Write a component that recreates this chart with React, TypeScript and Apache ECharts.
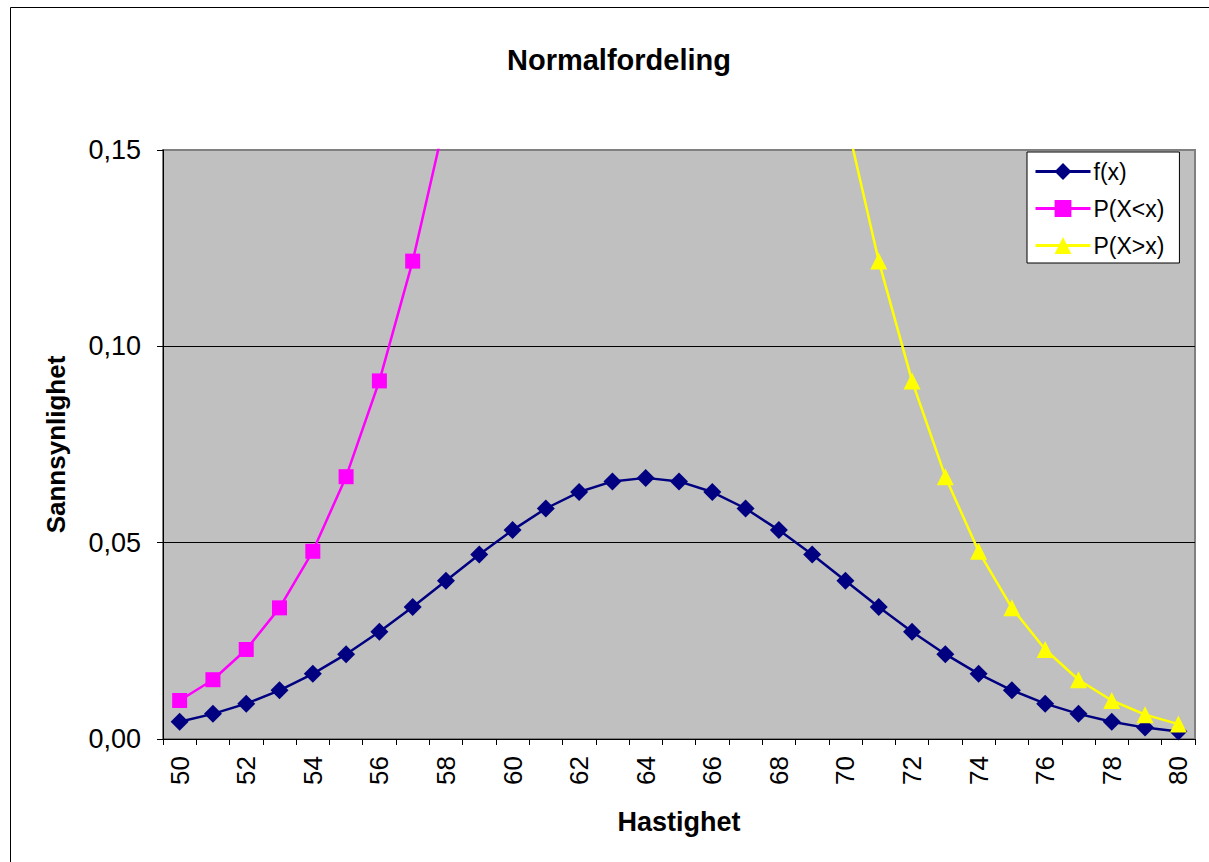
import React, { useEffect, useRef } from "react";
import * as echarts from "echarts";

const categories = [
  "50", "51", "52", "53", "54", "55", "56", "57", "58", "59", "60",
  "61", "62", "63", "64", "65", "66", "67", "68", "69", "70",
  "71", "72", "73", "74", "75", "76", "77", "78", "79", "80",
];

const fx = [
  0.0044, 0.0064, 0.009, 0.0124, 0.0166, 0.0216, 0.0273, 0.0336, 0.0403, 0.047, 0.0532,
  0.0587, 0.0629, 0.0656, 0.0665, 0.0656, 0.0629, 0.0587, 0.0532, 0.047, 0.0403,
  0.0336, 0.0273, 0.0216, 0.0166, 0.0124, 0.009, 0.0064, 0.0044, 0.0029, 0.0019,
];

const pLess = [
  0.0098, 0.0151, 0.0228, 0.0334, 0.0478, 0.0668, 0.0912, 0.1217, 0.1587, null, null,
  null, null, null, null, null, null, null, null, null, null,
  null, null, null, null, null, null, null, null, null, null,
];

const pGreater = [
  null, null, null, null, null, null, null, null, null, null, null,
  null, null, null, null, null, null, null, null, null, 0.1587,
  0.1217, 0.0912, 0.0668, 0.0478, 0.0334, 0.0228, 0.0151, 0.0098, 0.0062, 0.0038,
];

const yTicks = [0, 0.05, 0.1, 0.15];

const FONT = "Arial, 'Liberation Sans', sans-serif";

export default function App() {
  const ref = useRef<HTMLDivElement>(null);

  useEffect(() => {
    document.body.style.margin = "0";
    if (!ref.current) return;
    const chart = echarts.init(ref.current, null, { renderer: "svg" });
    chart.setOption({
      animation: false,
      backgroundColor: "#ffffff",
      textStyle: { fontFamily: FONT },
      title: {
        text: "Normalfordeling",
        left: 614,
        textAlign: "center",
        top: 40,
        textStyle: { fontSize: 29, fontWeight: "bold", color: "#000", fontFamily: FONT },
      },
      graphic: [
        {
          type: "rect",
          shape: { x: 10.5, y: 7.5, width: 1250, height: 900 },
          style: { fill: "none", stroke: "#000", lineWidth: 1 },
          silent: true,
          z: 100,
        },
      ],
      legend: {
        orient: "vertical",
        left: 1027,
        top: 152,
        padding: [8, 15, 6, 7],
        itemWidth: 55,
        itemHeight: 21,
        itemGap: 14,
        backgroundColor: "#ffffff",
        borderColor: "#000000",
        borderWidth: 1,
        lineStyle: { width: 3 },
        textStyle: { fontSize: 23, color: "#000", fontFamily: FONT, padding: [0, 0, 0, -2] },
        data: ["f(x)", "P(X<x)", "P(X>x)"],
      },
      grid: {
        left: 163,
        top: 150,
        width: 1032,
        height: 589,
        show: true,
        backgroundColor: "#C0C0C0",
        borderColor: "#808080",
        borderWidth: 2,
        containLabel: false,
      },
      xAxis: {
        type: "category",
        data: categories,
        boundaryGap: true,
        name: "Hastighet",
        nameLocation: "middle",
        nameGap: 69,
        nameTextStyle: { fontSize: 27, fontWeight: "bold", color: "#000", fontFamily: FONT },
        axisLine: { show: true, lineStyle: { color: "#000", width: 1 } },
        axisTick: { show: true, interval: 0, length: 6, lineStyle: { color: "#000" } },
        axisLabel: {
          interval: 1,
          rotate: 90,
          margin: 17,
          fontSize: 26,
          color: "#000",
          fontFamily: FONT,
        },
        splitLine: { show: false },
      },
      yAxis: {
        type: "value",
        min: yTicks[0],
        max: yTicks[yTicks.length - 1],
        interval: 0.05,
        name: "Sannsynlighet",
        nameLocation: "middle",
        nameGap: 94,
        nameRotate: 90,
        nameTextStyle: { fontSize: 26, fontWeight: "bold", color: "#000", fontFamily: FONT },
        axisLine: { show: true, lineStyle: { color: "#000", width: 1 } },
        axisTick: { show: true, length: 6, lineStyle: { color: "#000" } },
        axisLabel: {
          margin: 22,
          fontSize: 27,
          color: "#000",
          fontFamily: FONT,
          formatter: (v: number) => v.toFixed(2).replace(".", ","),
        },
        splitLine: {
          show: true,
          lineStyle: { color: ["#000", "#000", "#000", "#808080"], width: 1 },
        },
      },
      series: [
        {
          name: "f(x)",
          type: "line",
          data: fx,
          symbol: "diamond",
          symbolSize: 18,
          color: "#000080",
          lineStyle: { color: "#000080", width: 2.5 },
          itemStyle: { color: "#000080" },
          clip: true,
        },
        {
          name: "P(X<x)",
          type: "line",
          data: pLess,
          symbol: "rect",
          symbolSize: 15,
          color: "#FF00FF",
          lineStyle: { color: "#FF00FF", width: 2.5 },
          itemStyle: { color: "#FF00FF" },
          clip: true,
        },
        {
          name: "P(X>x)",
          type: "line",
          data: pGreater,
          symbol: "triangle",
          symbolSize: 17,
          color: "#FFFF00",
          lineStyle: { color: "#FFFF00", width: 2.5 },
          itemStyle: { color: "#FFFF00" },
          clip: true,
        },
      ],
    });
    return () => chart.dispose();
  }, []);

  return <div ref={ref} style={{ width: 1209, height: 862 }} />;
}
